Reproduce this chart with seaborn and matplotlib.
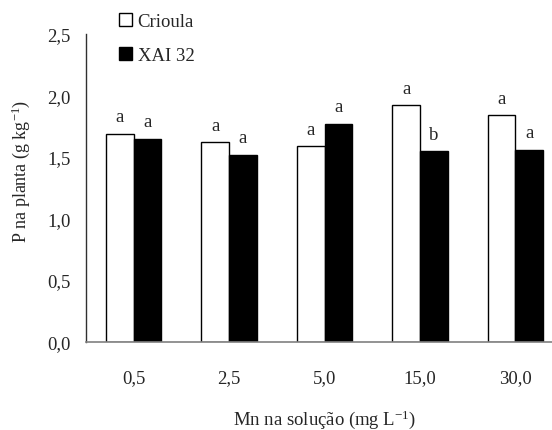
import matplotlib
matplotlib.use("Agg")
import matplotlib.pyplot as plt
import seaborn as sns
import pandas as pd
from matplotlib.patches import Patch
from matplotlib.ticker import FuncFormatter

# ---- data ----
doses = ["0,5", "2,5", "5,0", "15,0", "30,0"]
crioula = [1.69, 1.62, 1.59, 1.92, 1.84]
xai32 = [1.65, 1.52, 1.77, 1.55, 1.56]
letters_crioula = ["a", "a", "a", "a", "a"]
letters_xai32 = ["a", "a", "a", "b", "a"]
series_names = ["Crioula", "XAI 32"]

df = pd.DataFrame({
    "dose": doses * 2,
    "P": crioula + xai32,
    "cultivar": [series_names[0]] * len(doses) + [series_names[1]] * len(doses),
})

sns.set_theme(style="white")
plt.rcParams["font.family"] = ["Liberation Serif", "DejaVu Serif"]
plt.rcParams["mathtext.fontset"] = "custom"
plt.rcParams["mathtext.rm"] = "Liberation Serif"
plt.rcParams["mathtext.it"] = "Liberation Serif:italic"
FS = 13.5
plt.rcParams["font.size"] = FS

W, H = 552, 431
fig = plt.figure(figsize=(W / 100, H / 100), dpi=100)
ax = fig.add_axes([86 / W, 88.5 / H, 477 / W, 307.5 / H])

sns.barplot(data=df, x="dose", y="P", hue="cultivar", order=doses,
            hue_order=series_names, palette=["white", "black"],
            edgecolor="black", linewidth=1.0, width=0.58, gap=0,
            ax=ax, legend=False, saturation=1)

for cont, labs in zip(ax.containers, [letters_crioula, letters_xai32]):
    ax.bar_label(cont, labels=labs, padding=6, fontsize=FS)

ax.set_ylim(0, 2.5)
ax.set_yticks([0, 0.5, 1.0, 1.5, 2.0, 2.5])
ax.yaxis.set_major_formatter(FuncFormatter(lambda v, p: f"{v:.1f}".replace(".", ",")))
ax.set_xlim(-0.5, len(doses) - 0.5)
ax.set_xticks([i - 0.5 for i in range(len(doses) + 1)], minor=False)
ax.set_xticklabels([""] * (len(doses) + 1))
ax.set_xticks(list(range(len(doses))), minor=True)
ax.set_xticklabels(doses, minor=True)
ax.tick_params(axis="x", which="minor", length=0, pad=20, labelsize=FS)
ax.tick_params(axis="x", which="major", length=7, width=1, color="#808080", direction="out")
ax.tick_params(axis="y", length=6, width=1, color="#404040", direction="out", pad=5, labelsize=FS)

for s in ["top", "right"]:
    ax.spines[s].set_visible(False)
ax.spines["left"].set_color("#303030")
ax.spines["left"].set_linewidth(1)
ax.spines["bottom"].set_color("#808080")
ax.spines["bottom"].set_linewidth(1.2)

ax.set_xlabel("Mn na solução (mg L$^{-1}$)", fontsize=FS)
ax.set_ylabel("P na planta (g kg$^{-1}$)", fontsize=13)
ax.xaxis.set_label_coords(0.5, -0.213)
ax.yaxis.set_label_coords(-0.113, 0.558)

handles = [Patch(facecolor="white", edgecolor="black", linewidth=1),
           Patch(facecolor="black", edgecolor="black", linewidth=1)]
fig.legend(handles, series_names, loc="upper left",
           bbox_to_anchor=(119 / W, 1 - 14 / H), frameon=False,
           borderpad=0, borderaxespad=0, handlelength=0.7, handleheight=0.7,
           handletextpad=0.3, labelspacing=0.88, fontsize=FS)

fig.savefig("out.png", dpi=100)
